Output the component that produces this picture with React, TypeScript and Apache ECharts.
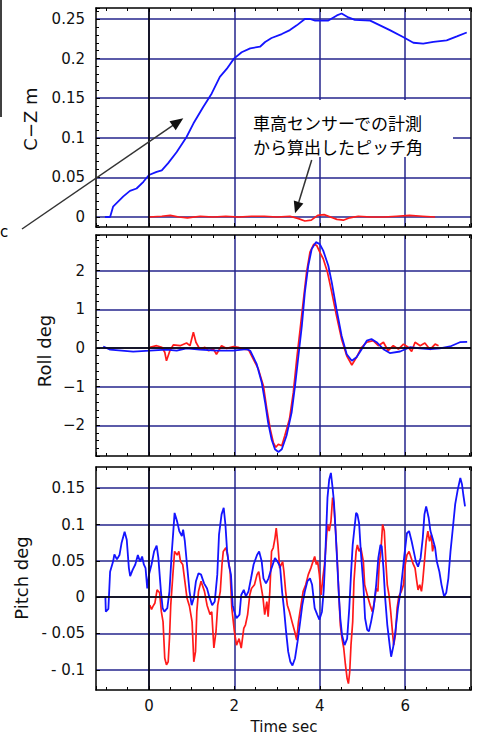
import React, { useEffect, useRef } from "react";
import * as echarts from "echarts";

// ---------- data ----------
const xTickLabels = ["0", "2", "4", "6"];
const yNames = ["C\u2212Z m", "Roll deg", "Pitch deg"];
const noteLines = ["車高センサーでの計測", "から算出したピッチ角"];
const xLabel = "Time sec";

const czBlue: [number, number][] = [
  [-1.03, 0], [-0.91, 0], [-0.84, 0.013], [-0.6, 0.026], [-0.445, 0.033], [-0.29, 0.036],
  [-0.13, 0.0445], [0.0, 0.053], [0.18, 0.057], [0.3, 0.059], [0.45, 0.068], [0.65, 0.082],
  [0.88, 0.101], [1.04, 0.118], [1.27, 0.139], [1.47, 0.156], [1.66, 0.177], [1.82, 0.187],
  [1.99, 0.2], [2.17, 0.208], [2.37, 0.213], [2.6, 0.215], [2.72, 0.221], [2.87, 0.226],
  [3.11, 0.231], [3.3, 0.236], [3.46, 0.242], [3.65, 0.25], [3.77, 0.25], [3.89, 0.248],
  [4.2, 0.248], [4.4, 0.2545], [4.51, 0.257], [4.67, 0.252], [4.82, 0.249], [5.18, 0.248],
  [5.41, 0.242], [5.64, 0.236], [5.96, 0.227], [6.19, 0.22], [6.42, 0.219], [6.66, 0.221],
  [6.97, 0.223], [7.21, 0.228], [7.44, 0.233],
];
const czRed: [number, number][] = [
  [0, 0], [0.3, 0.001], [0.5, 0.002], [0.7, 0.0], [0.9, -0.001], [1.2, 0.001], [1.5, 0.0],
  [1.8, 0.001], [2.1, 0.0], [2.4, 0.001], [2.7, 0.001], [3.0, 0.0], [3.3, 0.001], [3.5, -0.002],
  [3.65, -0.005], [3.8, -0.004], [3.95, 0.002], [4.1, 0.003], [4.25, 0.0], [4.4, -0.003],
  [4.55, -0.004], [4.7, -0.001], [4.9, 0.001], [5.2, 0.0], [5.5, 0.0], [5.8, 0.001], [6.1, 0.002],
  [6.4, 0.001], [6.7, 0.0],
];

const rollBlue: [number, number][] = [
  [-1.07, 0.04], [-0.91, -0.04], [-0.37, -0.095], [0.02, -0.07], [0.41, -0.04], [0.65, -0.07],
  [0.88, -0.01], [1.19, -0.04], [1.58, -0.07], [1.97, -0.07], [2.29, -0.03], [2.37, -0.07],
  [2.52, -0.41], [2.64, -0.89], [2.72, -1.41], [2.79, -1.93], [2.87, -2.36], [2.95, -2.62],
  [3.03, -2.69], [3.11, -2.62], [3.22, -2.27], [3.34, -1.67], [3.42, -0.98], [3.5, -0.2],
  [3.58, 0.58], [3.65, 1.44], [3.73, 2.13], [3.81, 2.56], [3.91, 2.74], [4.0, 2.69],
  [4.08, 2.52], [4.2, 2.13], [4.28, 1.7], [4.39, 1.01], [4.51, 0.32], [4.63, -0.16],
  [4.75, -0.33], [4.86, -0.24], [4.98, -0.03], [5.1, 0.19], [5.21, 0.23], [5.33, 0.15],
  [5.49, -0.03], [5.64, -0.13], [5.88, -0.09], [6.11, 0.02], [6.35, -0.01], [6.58, -0.03],
  [6.81, -0.01], [7.05, 0.04], [7.28, 0.15], [7.45, 0.16],
];
const rollRed: [number, number][] = [
  [0.02, 0.02], [0.18, 0.06], [0.3, 0.02], [0.37, -0.11], [0.41, -0.33], [0.49, -0.07],
  [0.57, 0.08], [0.73, 0.06], [0.88, 0.13], [0.96, 0.06], [1.04, 0.41], [1.1, 0.15],
  [1.19, -0.03], [1.31, 0.02], [1.39, -0.07], [1.51, -0.03], [1.58, -0.16], [1.7, 0.06],
  [1.82, -0.01], [1.98, 0.04], [2.09, 0.02], [2.21, -0.03], [2.33, -0.04], [2.44, -0.28],
  [2.56, -0.54], [2.68, -0.98], [2.76, -1.58], [2.84, -2.1], [2.91, -2.44], [2.97, -2.57],
  [3.03, -2.49], [3.11, -2.53], [3.18, -2.27], [3.29, -1.84], [3.38, -1.15], [3.46, -0.28],
  [3.54, 0.49], [3.61, 1.18], [3.69, 1.96], [3.77, 2.48], [3.86, 2.69], [3.93, 2.65],
  [4.0, 2.48], [4.08, 2.31], [4.18, 1.96], [4.28, 1.44], [4.39, 0.84], [4.51, 0.23],
  [4.63, -0.2], [4.75, -0.44], [4.86, -0.24], [4.98, 0.02], [5.1, 0.15], [5.25, 0.19],
  [5.37, 0.06], [5.49, 0.15], [5.6, -0.07], [5.72, 0.06], [5.84, -0.03], [5.96, 0.1],
  [6.07, 0.02], [6.15, -0.09], [6.23, 0.15], [6.35, 0.06], [6.46, 0.13], [6.58, -0.04],
  [6.7, 0.1], [6.78, 0.06],
];

const pitchBlue: [number, number][] = [
  [-1.02, 0.0], [-1.01, -0.02], [-0.95, -0.016], [-0.91, 0.035], [-0.84, 0.049], [-0.81, 0.059],
  [-0.75, 0.052], [-0.69, 0.058], [-0.64, 0.075], [-0.57, 0.09], [-0.52, 0.079], [-0.47, 0.04],
  [-0.44, 0.029], [-0.38, 0.038], [-0.32, 0.045], [-0.26, 0.058], [-0.21, 0.049], [-0.16, 0.056],
  [-0.12, 0.045], [-0.08, 0.04], [-0.04, 0.012], [0.0, 0.031], [0.06, 0.045], [0.12, 0.063],
  [0.18, 0.071], [0.22, 0.054], [0.28, 0.008], [0.32, -0.015], [0.36, -0.02], [0.43, -0.015],
  [0.48, 0.008], [0.53, 0.058], [0.57, 0.091], [0.6, 0.116], [0.66, 0.104], [0.71, 0.091],
  [0.77, 0.084], [0.8, 0.093], [0.84, 0.077], [0.89, 0.045], [0.95, 0.008], [1.0, -0.011],
  [1.05, -0.001], [1.1, 0.022], [1.16, 0.033], [1.22, 0.031], [1.29, 0.019], [1.36, 0.012],
  [1.42, -0.001], [1.48, -0.011], [1.54, -0.006], [1.6, 0.031], [1.64, 0.086], [1.7, 0.114],
  [1.75, 0.123], [1.79, 0.1], [1.83, 0.063], [1.87, 0.045], [1.92, 0.031], [1.96, -0.011],
  [2.0, -0.02], [2.05, -0.029], [2.12, -0.024], [2.16, 0.003], [2.22, 0.01], [2.27, 0.001],
  [2.33, 0.008], [2.39, 0.026], [2.45, 0.045], [2.53, 0.058], [2.58, 0.063], [2.64, 0.049],
  [2.68, 0.026], [2.74, 0.019], [2.8, 0.026], [2.87, 0.04], [2.95, 0.054], [3.01, 0.049],
  [3.07, 0.042], [3.12, 0.006], [3.16, -0.015], [3.21, -0.047], [3.26, -0.075], [3.31, -0.089],
  [3.36, -0.094], [3.42, -0.084], [3.48, -0.061], [3.54, -0.034], [3.59, -0.011], [3.65, 0.008],
  [3.71, 0.022], [3.77, 0.026], [3.82, 0.017], [3.88, -0.015], [3.94, -0.024], [3.99, -0.031],
  [4.05, -0.02], [4.09, 0.008], [4.12, 0.045], [4.15, 0.091], [4.18, 0.137], [4.22, 0.162],
  [4.26, 0.171], [4.3, 0.15], [4.33, 0.132], [4.37, 0.091], [4.41, 0.045], [4.45, -0.001],
  [4.48, -0.029], [4.52, -0.052], [4.58, -0.066], [4.64, -0.057], [4.69, -0.015], [4.73, 0.031],
  [4.77, 0.072], [4.82, 0.1], [4.85, 0.116], [4.88, 0.114], [4.92, 0.102], [4.96, 0.063],
  [5.02, 0.017], [5.06, -0.029], [5.11, -0.045], [5.15, -0.047], [5.2, -0.034], [5.26, -0.015],
  [5.32, 0.017], [5.37, 0.054], [5.42, 0.072], [5.45, 0.07], [5.49, 0.04], [5.53, -0.001],
  [5.58, -0.038], [5.64, -0.068], [5.67, -0.082], [5.72, -0.068], [5.77, -0.047], [5.83, -0.015],
  [5.89, 0.008], [5.94, 0.035], [5.98, 0.058], [6.04, 0.088], [6.09, 0.091], [6.15, 0.077],
  [6.2, 0.063], [6.25, 0.049], [6.3, 0.042], [6.36, 0.054], [6.41, 0.081], [6.45, 0.114],
  [6.49, 0.125], [6.55, 0.109], [6.59, 0.091], [6.64, 0.081], [6.7, 0.068], [6.74, 0.049],
  [6.8, 0.035], [6.85, 0.017], [6.91, 0.001], [6.96, 0.006], [7.01, 0.026], [7.06, 0.063],
  [7.12, 0.098], [7.17, 0.128], [7.23, 0.148], [7.29, 0.164], [7.33, 0.155], [7.36, 0.141],
  [7.4, 0.125],
];
const pitchRed: [number, number][] = [
  [0.02, -0.011], [0.06, -0.017], [0.09, -0.013], [0.14, -0.008], [0.19, 0.01], [0.25, 0.006],
  [0.29, -0.02], [0.33, -0.034], [0.37, -0.084], [0.41, -0.093], [0.45, -0.089], [0.48, -0.057],
  [0.51, -0.011], [0.56, 0.031], [0.6, 0.063], [0.66, 0.058], [0.7, 0.063], [0.74, 0.049],
  [0.79, 0.045], [0.84, 0.022], [0.89, -0.001], [0.95, -0.013], [1.01, -0.034], [1.05, -0.089],
  [1.09, -0.075], [1.12, -0.02], [1.16, 0.008], [1.22, 0.022], [1.3, 0.008], [1.36, -0.011],
  [1.43, -0.024], [1.47, -0.02], [1.52, -0.07], [1.57, -0.047], [1.61, -0.011], [1.67, 0.008],
  [1.71, 0.045], [1.74, 0.063], [1.8, 0.068], [1.84, 0.058], [1.9, 0.035], [1.94, -0.015],
  [2.0, -0.047], [2.05, -0.066], [2.11, -0.057], [2.16, -0.07], [2.22, -0.043], [2.26, -0.038],
  [2.31, -0.024], [2.36, 0.003], [2.4, 0.012], [2.47, 0.017], [2.53, 0.031], [2.57, 0.035],
  [2.62, 0.017], [2.67, -0.001], [2.71, -0.024], [2.76, -0.006], [2.79, -0.027], [2.83, 0.008],
  [2.87, 0.063], [2.91, 0.068], [2.95, 0.081], [2.98, 0.095], [3.02, 0.072], [3.06, 0.04],
  [3.1, 0.045], [3.13, 0.049], [3.16, 0.035], [3.2, 0.008], [3.24, -0.011], [3.29, -0.02],
  [3.35, -0.034], [3.41, -0.047], [3.46, -0.059], [3.5, -0.034], [3.56, -0.011], [3.61, 0.008],
  [3.67, 0.017], [3.73, 0.031], [3.79, 0.04], [3.84, 0.049], [3.88, 0.056], [3.92, 0.045],
  [3.95, 0.049], [3.99, 0.031], [4.03, 0.003], [4.07, 0.026], [4.11, 0.045], [4.14, 0.068],
  [4.18, 0.1], [4.22, 0.091], [4.26, 0.104], [4.3, 0.137], [4.33, 0.127], [4.37, 0.091],
  [4.41, 0.049], [4.45, -0.001], [4.48, -0.038], [4.52, -0.057], [4.56, -0.07], [4.6, -0.093],
  [4.64, -0.112], [4.67, -0.119], [4.7, -0.103], [4.73, -0.066], [4.77, -0.034], [4.8, 0.022],
  [4.85, 0.063], [4.88, 0.072], [4.92, 0.063], [4.96, 0.068], [5.02, 0.049], [5.05, 0.017],
  [5.09, 0.008], [5.13, -0.001], [5.18, -0.011], [5.23, -0.02], [5.28, -0.006], [5.32, 0.012],
  [5.36, 0.008], [5.39, 0.045], [5.43, 0.063], [5.47, 0.1], [5.51, 0.091], [5.55, 0.045],
  [5.58, 0.017], [5.62, 0.003], [5.66, -0.02], [5.7, -0.047], [5.73, -0.066], [5.77, -0.052],
  [5.81, -0.015], [5.85, 0.001], [5.91, 0.008], [5.96, 0.017], [6.0, 0.045], [6.04, 0.058],
  [6.09, 0.063], [6.14, 0.054], [6.19, 0.045], [6.23, 0.04], [6.27, 0.022], [6.3, 0.01],
  [6.34, 0.017], [6.38, 0.008], [6.41, 0.022], [6.45, 0.049], [6.49, 0.077], [6.53, 0.091],
  [6.57, 0.077], [6.61, 0.086], [6.64, 0.063], [6.67, 0.072],
];

// axis ranges (value domain)
const xRange = [-1.24, 7.54];
const yRanges = [
  [-0.0126, 0.2639],
  [-2.795, 2.925],
  [-0.1278, 0.1792],
];
const ySteps = [0.05, 1, 0.05];

// ---------- styling ----------
const NAVY = "#24248c";
const BLUE = "#1414ff";
const RED = "#ff1a1a";
const FONT = "DejaVu Sans";

const grids = [
  { left: 96, width: 375, top: 8, height: 219 },
  { left: 96, width: 375, top: 235, height: 221 },
  { left: 96, width: 375, top: 467, height: 223 },
];

const yFormatters = [
  (v: number) => String(+v.toFixed(2)),
  (v: number) => (v < 0 ? "\u2212" + String(-v) : String(v)),
  (v: number) => (v < 0 ? "- " + String(+(-v).toFixed(2)) : String(+v.toFixed(2))),
];

function buildOption() {
  const xAxis: any[] = [];
  const yAxis: any[] = [];
  const series: any[] = [];
  const blackLine = { color: "#000", width: 1.5 };
  grids.forEach((_, g) => {
    const base = {
      type: "value",
      gridIndex: g,
      min: xRange[0],
      max: xRange[1],
      minInterval: 2,
      maxInterval: 2,
      splitNumber: 4,
      axisLine: { show: true, onZero: false, lineStyle: blackLine },
      axisTick: { show: true, inside: true, length: 4, lineStyle: { color: "#000", width: 1 } },
      minorTick: { show: true, splitNumber: 4, length: 3, lineStyle: { color: "#000", width: 1 } },
    };
    xAxis.push({
      ...base,
      position: "bottom",
      axisLabel: {
        show: g === 2,
        showMinLabel: false,
        showMaxLabel: false,
        margin: 8,
        fontFamily: FONT,
        fontSize: 15,
        color: "#111",
        formatter: (v: number) => {
          const s = String(+v.toFixed(2));
          return xTickLabels.indexOf(s) >= 0 ? s : "";
        },
      },
      splitLine: { show: true, showMinLine: false, showMaxLine: false, lineStyle: { color: NAVY, width: 1.5 } },
    });
    xAxis.push({
      ...base,
      position: "top",
      axisLabel: { show: false },
      splitLine: { show: false },
    });
    const yb = {
      type: "value",
      gridIndex: g,
      min: yRanges[g][0],
      max: yRanges[g][1],
      minInterval: ySteps[g],
      maxInterval: ySteps[g],
      splitNumber: 6,
      axisLine: { show: true, onZero: false, lineStyle: blackLine },
    };
    yAxis.push({
      ...yb,
      position: "left",
      axisTick: { show: true, inside: true, length: 4, lineStyle: { color: "#000", width: 1 } },
      minorTick: { show: g !== 2, splitNumber: 5, length: 3, lineStyle: { color: "#000", width: 1 } },
      axisLabel: {
        show: true,
        showMinLabel: false,
        showMaxLabel: false,
        margin: 11,
        fontFamily: FONT,
        fontSize: 15,
        color: "#111",
        formatter: yFormatters[g],
      },
      splitLine: { show: true, showMinLine: false, showMaxLine: false, lineStyle: { color: NAVY, width: 1.5 } },
    });
    yAxis.push({
      ...yb,
      position: "right",
      axisTick: { show: false },
      axisLabel: { show: false },
      splitLine: { show: false },
    });
  });

  const datasets = [
    [czRed, czBlue],
    [rollRed, rollBlue],
    [pitchRed, pitchBlue],
  ];
  datasets.forEach(([red, blue], g) => {
    const mlData: any[] = [{ xAxis: 0 }];
    if (g > 0) mlData.push({ yAxis: 0 });
    series.push({
      type: "line",
      name: "red" + g,
      xAxisIndex: 2 * g,
      yAxisIndex: 2 * g,
      data: red,
      showSymbol: false,
      symbol: "none",
      lineStyle: { color: RED, width: 1.7 },
      itemStyle: { color: RED },
      markLine: {
        silent: true,
        symbol: "none",
        label: { show: false },
        lineStyle: { color: "#000", width: 1.5, type: "solid" },
        emphasis: { disabled: true },
        data: mlData,
      },
    });
    series.push({
      type: "line",
      name: "blue" + g,
      xAxisIndex: 2 * g,
      yAxisIndex: 2 * g,
      data: blue,
      showSymbol: false,
      symbol: "none",
      lineStyle: { color: BLUE, width: 1.8 },
      itemStyle: { color: BLUE },
    });
  });

  // annotation geometry (decorations, in pixels)
  const arrowColor = "#333";
  const graphic: any[] = [
    { type: "line", z: 10, shape: { x1: 1, y1: 0, x2: 1, y2: 117 }, style: { stroke: "#000", lineWidth: 1.5 } },
    { type: "text", z: 10, x: 0, y: 232, style: { text: "c", font: "15px 'DejaVu Sans'", fill: "#000", textVerticalAlign: "middle" } },
    { type: "rect", z: 5, shape: { x: 236, y: 100, width: 217, height: 57 }, style: { fill: "#fff" } },
    {
      type: "text", z: 10, x: 253, y: 122.5,
      style: { text: noteLines[0], font: "17px 'Noto Sans CJK JP'", fill: "#000", textVerticalAlign: "middle" },
    },
    {
      type: "text", z: 10, x: 253, y: 146,
      style: { text: noteLines[1], font: "17px 'Noto Sans CJK JP'", fill: "#000", textVerticalAlign: "middle" },
    },
    { type: "line", z: 10, shape: { x1: 22, y1: 229, x2: 174, y2: 124.6 }, style: { stroke: arrowColor, lineWidth: 1.5 } },
    { type: "polygon", z: 10, shape: { points: [[183.3, 118.3], [175.7, 130.2], [169.5, 121.2]] }, style: { fill: "#111" } },
    { type: "line", z: 10, shape: { x1: 311.7, y1: 160, x2: 298.8, y2: 202 }, style: { stroke: arrowColor, lineWidth: 1.5 } },
    { type: "polygon", z: 10, shape: { points: [[295, 213.3], [303.4, 203.4], [293.8, 200.4]] }, style: { fill: "#111" } },
    {
      type: "text", z: 10, x: 30, y: 119, rotation: Math.PI / 2,
      style: { text: yNames[0], font: "18px 'DejaVu Sans'", fill: "#111", textAlign: "center", textVerticalAlign: "middle" },
    },
    {
      type: "text", z: 10, x: 44, y: 351, rotation: Math.PI / 2,
      style: { text: yNames[1], font: "18px 'DejaVu Sans'", fill: "#111", textAlign: "center", textVerticalAlign: "middle" },
    },
    {
      type: "text", z: 10, x: 21, y: 578, rotation: Math.PI / 2,
      style: { text: yNames[2], font: "18px 'DejaVu Sans'", fill: "#111", textAlign: "center", textVerticalAlign: "middle" },
    },
    {
      type: "text", z: 10, x: 284, y: 727,
      style: { text: xLabel, font: "15px 'DejaVu Sans'", fill: "#111", textAlign: "center", textVerticalAlign: "middle" },
    },
  ];

  return {
    animation: false,
    backgroundColor: "#fff",
    grid: grids.map((g) => ({ ...g, containLabel: false })),
    xAxis,
    yAxis,
    series,
    graphic,
  };
}

export default function App() {
  const ref = useRef<HTMLDivElement>(null);
  useEffect(() => {
    if (!ref.current) return;
    const chart = echarts.init(ref.current, null, { renderer: "svg" });
    chart.setOption(buildOption() as any);
    return () => chart.dispose();
  }, []);
  return (
    <div
      ref={ref}
      style={{ position: "absolute", left: 0, top: 0, width: 477, height: 738, background: "#fff" }}
    />
  );
}
